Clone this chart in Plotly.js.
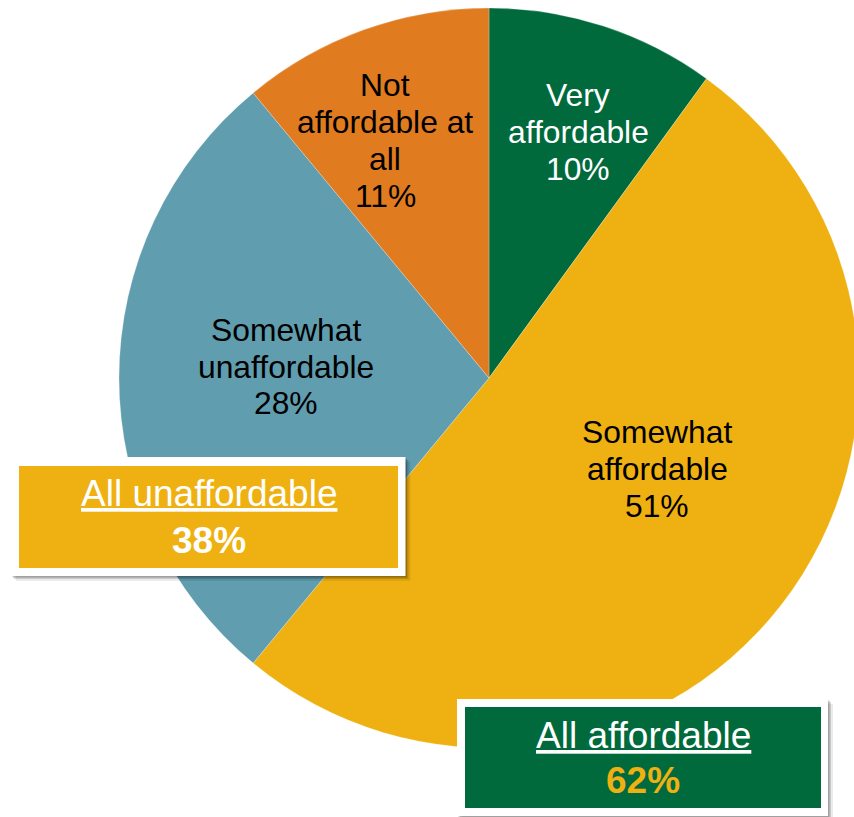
<!DOCTYPE html>
<html>
<head>
<meta charset="utf-8">
<script src="https://cdn.plot.ly/plotly-3.0.1.min.js"></script>
<style>
html,body{margin:0;padding:0;overflow:hidden;background:#fff;}
#chart{width:900px;height:817px;}
</style>
</head>
<body>
<div id="chart"></div>
<script>
// ---- data ----
const labels = ['Very affordable', 'Somewhat affordable', 'Somewhat unaffordable', 'Not affordable at all'];
const labelLines = [['Very', 'affordable'], ['Somewhat', 'affordable'], ['Somewhat', 'unaffordable'], ['Not', 'affordable at', 'all']];
const values = [10, 51, 28, 11];
const colors = ['#006A3D', '#EEB111', '#5F9DAF', '#E07B1F'];
const textColors = ['#FFFFFF', '#000000', '#000000', '#000000'];
const groupLabels = ['All unaffordable', 'All affordable'];
const groupValues = [38, 62];

// ---- layout helpers ----
const W = 900, H = 817;
const px = x => x / W;
const py = y => 1 - y / H;
const FONT = '"Liberation Sans", Arial, sans-serif';

// pie geometry (pixels): center (489,378), radius 370
const cx = 489, cy = 378, r = 370;

const trace = {
  type: 'pie',
  labels: labels,
  values: values,
  sort: false,
  direction: 'clockwise',
  rotation: 0,
  textinfo: 'none',
  hoverinfo: 'label+percent',
  marker: {colors: colors, line: {color: 'rgba(255,255,255,0.5)', width: 0.5}},
  domain: {x: [px(cx - r), px(cx + r)], y: [py(cy + r), py(cy - r)]},
  showlegend: false
};

// label placement (pixels): center x, first baseline y
const labelPos = [[578, 106], [657, 443.3], [286, 340.7], [385, 96]];
const LS = 36.9, FS = 31.8;
const annotations = [];
labels.forEach((lab, i) => {
  const lines = labelLines[i].concat([values[i] + '%']);
  lines.forEach((t, j) => {
    const base = labelPos[i][1] + j * LS;
    annotations.push({
      xref: 'paper', yref: 'paper', showarrow: false,
      x: px(labelPos[i][0]), y: py(base - 0.3465 * FS),
      xanchor: 'center', yanchor: 'middle',
      text: t, font: {family: FONT, size: FS, color: textColors[i]}
    });
  });
});

// summary boxes (pixels)
const boxes = [
  {outer: [11, 457, 405.5, 576], inner: [19, 466, 398, 568], fill: colors[1], valColor: '#FFFFFF', base: [506.7, 553.3]},
  {outer: [457, 699, 828, 816], inner: [465, 707, 821, 808], fill: colors[0], valColor: colors[1], base: [748.3, 793.3]}
];
const shapes = [];
const BFS = 37;
boxes.forEach((b, i) => {
  const o = b.outer, n = b.inner;
  [[5, 'rgba(0,0,0,0.08)'], [3, 'rgba(0,0,0,0.15)'], [1.5, 'rgba(0,0,0,0.2)']].forEach(s => {
    shapes.push({type: 'rect', xref: 'paper', yref: 'paper', layer: 'above',
      x0: px(o[0] + s[0]), x1: px(o[2] + s[0]), y0: py(o[3] + s[0]), y1: py(o[1] + s[0]),
      fillcolor: s[1], line: {width: 0}});
  });
  shapes.push({type: 'rect', xref: 'paper', yref: 'paper', layer: 'above',
    x0: px(o[0]), x1: px(o[2]), y0: py(o[3]), y1: py(o[1]),
    fillcolor: '#FFFFFF', line: {width: 0}});
  shapes.push({type: 'rect', xref: 'paper', yref: 'paper', layer: 'above',
    x0: px(n[0]), x1: px(n[2]), y0: py(n[3]), y1: py(n[1]),
    fillcolor: b.fill, line: {width: 0}});
  const mx = (n[0] + n[2]) / 2;
  annotations.push({xref: 'paper', yref: 'paper', showarrow: false,
    x: px(mx), y: py(b.base[0] - 0.3465 * BFS), xanchor: 'center', yanchor: 'middle',
    text: '<u>' + groupLabels[i] + '</u>', font: {family: FONT, size: BFS, color: '#FFFFFF'}});
  annotations.push({xref: 'paper', yref: 'paper', showarrow: false,
    x: px(mx), y: py(b.base[1] - 0.3465 * BFS), xanchor: 'center', yanchor: 'middle',
    text: '<b>' + groupValues[i] + '%</b>', font: {family: FONT, size: BFS, color: b.valColor}});
});

const layout = {
  width: W, height: H,
  margin: {l: 0, r: 0, t: 0, b: 0, pad: 0},
  paper_bgcolor: '#FFFFFF',
  plot_bgcolor: '#FFFFFF',
  showlegend: false,
  shapes: shapes,
  annotations: annotations
};

Plotly.newPlot('chart', [trace], layout, {displayModeBar: false, staticPlot: true});
</script>
</body>
</html>
